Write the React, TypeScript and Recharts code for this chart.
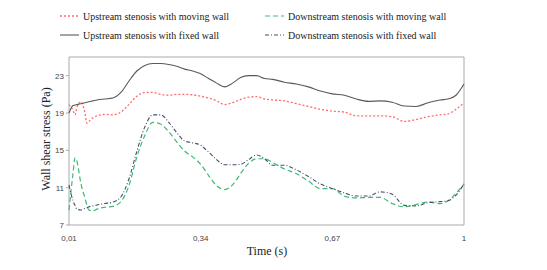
import { LineChart, Line, XAxis, YAxis, ReferenceArea } from 'recharts'

const times = [
  0.01, 0.02, 0.025, 0.03, 0.04, 0.05, 0.055, 0.06, 0.07, 0.08, 0.1, 0.12, 0.14, 0.16, 0.18, 0.2, 0.22, 0.24,
  0.26, 0.28, 0.3, 0.32, 0.34, 0.36, 0.38, 0.4, 0.42, 0.44, 0.46, 0.48, 0.5, 0.52, 0.55, 0.58, 0.61, 0.64,
  0.67, 0.7, 0.73, 0.76, 0.79, 0.82, 0.85, 0.88, 0.91, 0.94, 0.96, 0.98, 1,
]

const upMoving = [
  19.9, 19.3, 18.8, 19.6, 20.2, 19.0, 17.9, 18.1, 18.5, 18.7, 18.85, 18.8, 19.1, 19.9, 20.8, 21.2, 21.2, 21.0,
  20.9, 21.0, 21.0, 20.95, 20.8, 20.6, 20.3, 19.9, 20.1, 20.45, 20.7, 20.75, 20.5, 20.4, 20.3, 20.0, 19.7, 19.4,
  19.2, 19.1, 18.7, 18.7, 18.7, 18.6, 18.1, 18.3, 18.6, 18.8, 18.9, 19.4, 20.1,
]

const downMoving = [
  8.6, 12.5, 14.2, 13.8, 11.4, 9.9, 9.1, 8.6, 8.5, 8.7, 8.9, 9.0, 9.5, 11.2, 14.3, 16.6, 18.0, 17.8,
  17.0, 15.9, 14.9, 14.3, 13.5, 12.3, 11.2, 10.8, 11.3, 12.5, 13.6, 14.1, 14.1, 13.7, 13.0, 12.5, 11.7, 10.9,
  10.9, 10.1, 9.9, 9.95, 9.95, 9.3, 8.95, 9.2, 9.45, 9.3, 9.6, 10.4, 11.4,
]

const upFixed = [
  19.0, 19.8, 19.85, 19.9, 20.0, 20.1, 20.15, 20.2, 20.3, 20.4, 20.5, 20.6, 21.2, 22.4, 23.5, 24.1, 24.3, 24.3,
  24.2, 24.0, 23.7, 23.5, 23.2, 22.7, 22.2, 21.8, 22.2, 22.8, 23.0, 23.0, 22.7, 22.6, 22.3, 22.1, 21.8, 21.35,
  21.05, 20.9, 20.5, 20.25, 20.3, 20.15, 19.75, 19.7, 20.1, 20.4, 20.5, 20.9, 22.1,
]

const downFixed = [
  11.3, 9.6, 9.1, 8.7, 8.6, 8.8, 8.85, 8.95, 9.05, 9.15, 9.3, 9.45, 10.0, 11.9, 14.9, 17.5, 18.8, 18.8,
  18.0, 16.9, 16.0, 15.8, 15.55, 14.8, 14.0, 13.45, 13.45, 13.5, 14.0, 14.5, 14.1, 13.4, 13.4, 12.9, 12.2, 11.4,
  10.9, 10.45, 10.1, 10.1, 10.55, 10.3, 9.1, 9.05, 9.4, 9.5, 9.6, 10.2, 11.4,
]

const xTicks = [0.01, 0.34, 0.67, 1]
const yTicks = [7, 11, 15, 19, 23]

const data = times.map((t, i) => ({
  t,
  upMoving: upMoving[i],
  downMoving: downMoving[i],
  upFixed: upFixed[i],
  downFixed: downFixed[i],
}))

const series = [
  { key: 'upMoving', name: 'Upstream stenosis with moving wall', color: '#ff6b6b', dash: '2 2', width: 1.3 },
  { key: 'downMoving', name: 'Downstream stenosis with moving wall', color: '#3dbb72', dash: '5 3', width: 1.2 },
  { key: 'upFixed', name: 'Upstream stenosis with fixed wall', color: '#595959', dash: undefined, width: 1.1 },
  { key: 'downFixed', name: 'Downstream stenosis with fixed wall', color: '#44506e', dash: '4 2 1 2', width: 1.1 },
]

const serif = '"Liberation Serif", "Times New Roman", serif'
const tickStyle = { fontSize: 8, fill: '#444', fontFamily: '"Liberation Sans", Arial, sans-serif' }

const fmt = (v: number) => String(v).replace('.', ',')

function LegendBox() {
  const spots = [
    { x: 60, y: 16 },
    { x: 265, y: 16 },
    { x: 60, y: 35 },
    { x: 265, y: 35 },
  ]
  return (
    <svg width={547} height={50} style={{ position: 'absolute', left: 0, top: 0 }}>
      {series.map((s, i) => (
        <g key={s.key}>
          <line x1={spots[i].x} x2={spots[i].x + 19} y1={spots[i].y} y2={spots[i].y}
            stroke={s.color} strokeWidth={s.width} strokeDasharray={s.dash} />
          <text x={spots[i].x + 23} y={spots[i].y + 3.5} fontSize={10} fontFamily={serif} fill="#222">{s.name}</text>
        </g>
      ))}
    </svg>
  )
}

export default function App() {
  return (
    <div style={{ position: 'absolute', left: 0, top: 0, width: 547, height: 270, background: '#fff' }}>
      <LineChart width={547} height={270} data={data} margin={{ top: 57, right: 83, bottom: 25, left: 49 }}>
        <XAxis dataKey="t" type="number" domain={[0.01, 1]} ticks={xTicks} tickFormatter={fmt}
          tick={tickStyle} tickLine={false} axisLine={false} height={20} tickMargin={4} />
        <YAxis type="number" domain={[7, 25]} ticks={yTicks} tick={tickStyle} width={20}
          tickSize={3} tickLine={{ stroke: '#aaa' }} axisLine={false} interval={0} />
        <ReferenceArea x1={0.01} x2={1} y1={7} y2={25} fill="none" stroke="#aaa" strokeWidth={1} />
        {series.map((s) => (
          <Line key={s.key} dataKey={s.key} name={s.name} type="monotone" stroke={s.color}
            strokeWidth={s.width} strokeDasharray={s.dash} dot={false} isAnimationActive={false} />
        ))}
      </LineChart>
      <LegendBox />
      <div style={{ position: 'absolute', left: 46, top: 139, transform: 'translate(-50%, -50%) rotate(-90deg)',
        fontFamily: serif, fontSize: 12, whiteSpace: 'nowrap', color: '#222' }}>
        Wall shear stress (Pa)
      </div>
      <div style={{ position: 'absolute', left: 267, top: 251, transform: 'translate(-50%, -50%)',
        fontFamily: serif, fontSize: 12, whiteSpace: 'nowrap', color: '#222' }}>
        Time (s)
      </div>
    </div>
  )
}
